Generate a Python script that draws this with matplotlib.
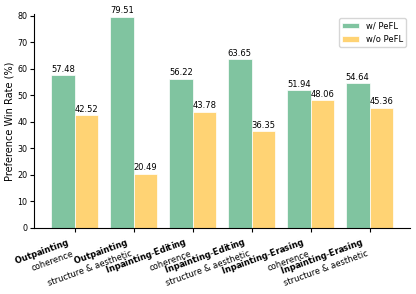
import numpy as np
import matplotlib
matplotlib.use("Agg")
import matplotlib.pyplot as plt

categories = [
    r"$\bf{Outpainting}$" + "\ncoherence",
    r"$\bf{Outpainting}$" + "\nstructure & aesthetic",
    r"$\bf{Inpainting}$-$\bf{Editing}$" + "\ncoherence",
    r"$\bf{Inpainting}$-$\bf{Editing}$" + "\nstructure & aesthetic",
    r"$\bf{Inpainting}$-$\bf{Erasing}$" + "\ncoherence",
    r"$\bf{Inpainting}$-$\bf{Erasing}$" + "\nstructure & aesthetic",
]
with_pefl = [57.48, 79.51, 56.22, 63.65, 51.94, 54.64]
without_pefl = [42.52, 20.49, 43.78, 36.35, 48.06, 45.36]

green = "#80c4a0"
yellow = "#ffd374"

fig = plt.figure(figsize=(4.16, 2.94), dpi=100)
ax = fig.add_axes([0.082, 0.2245, 0.904, 0.728])

x = np.arange(len(categories))
w = 0.4
b1 = ax.bar(x - w / 2, with_pefl, w, color=green, edgecolor="white", linewidth=0.5, label="w/ PeFL")
b2 = ax.bar(x + w / 2, without_pefl, w, color=yellow, edgecolor="white", linewidth=0.5, label="w/o PeFL")
ax.bar_label(b1, fmt="%.2f", padding=1, fontsize=6)
ax.bar_label(b2, fmt="%.2f", padding=1, fontsize=6)

ax.set_ylim(0, 80.6)
ax.set_xticks(x)
# default rotation mode: the end of the second line sits under the tick
ax.set_xticklabels(categories, rotation=20, ha="right", fontsize=6)
ax.tick_params(axis="y", labelsize=5.8, length=3, width=0.8, pad=2)
ax.tick_params(axis="x", length=3, width=0.8, pad=2.5)
ax.set_ylabel("Preference Win Rate (%)", fontsize=7, labelpad=2)
ax.spines["top"].set_visible(False)
ax.spines["right"].set_visible(False)
ax.legend(loc="upper right", fontsize=6, borderaxespad=0.5)

fig.savefig("out.png", dpi=100)
